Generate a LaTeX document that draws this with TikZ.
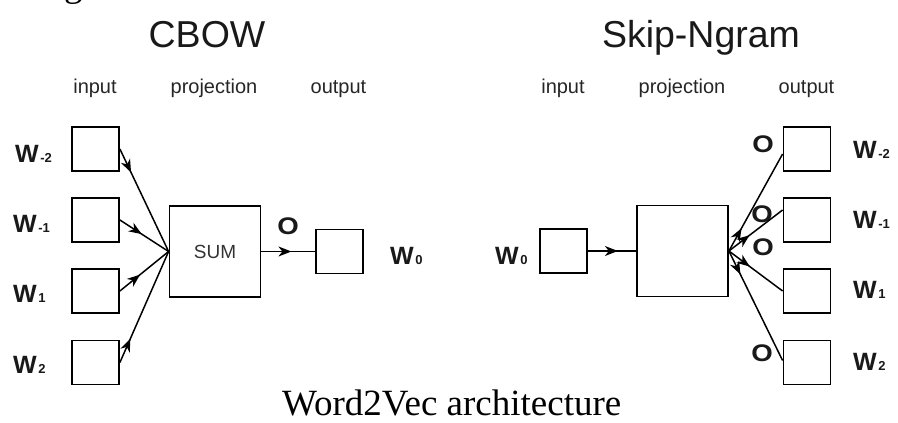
\documentclass[tikz,border=0pt]{standalone}
\usepackage{fontspec}
\setmainfont{Liberation Sans}
\newfontfamily\capserif{Liberation Serif}
\usetikzlibrary{arrows.meta,decorations.markings,calc}

\tikzset{
  box/.style={draw, line width=1.8pt, minimum width=47pt, minimum height=44pt, inner sep=0pt},
  bigbox/.style={draw, line width=1.8pt, minimum width=91pt, minimum height=91pt, inner sep=0pt, font=\fontsize{19}{21}\selectfont, text=black!80},
  conn/.style={line width=1.5pt, postaction={decorate},
    decoration={markings, mark=at position #1 with {\arrow{Stealth[length=13pt,width=10pt,inset=4pt]}}}},
  conn/.default=26pt,
  title/.style={font=\fontsize{37.5}{40}\selectfont, anchor=base, inner sep=0pt, text=black!90},
  col/.style={font=\fontsize{20}{22}\selectfont, anchor=base, inner sep=0pt, text=black!85},
  wl/.style={font=\bfseries\fontsize{25}{28}\selectfont, anchor=base west, inner sep=0pt, text=black!90},
  olab/.style={font=\bfseries\fontsize{24}{27}\selectfont, inner sep=0pt, text=black!90},
  captext/.style={font=\capserif\fontsize{37}{40}\selectfont, anchor=base west, inner sep=0pt},
}
\newcommand{\wsubl}[1]{W\hspace{1.5pt}{\fontsize{13}{13}\selectfont #1}}
\newcommand{\olet}{\scalebox{1.15}[1]{O}}

\begin{document}
\begin{tikzpicture}[x=1pt,y=-1pt]
\path[use as bounding box, fill=white] (0,0) rectangle (898,423);

% fragment of text above (cut off)
\node[captext] (gfrag) at (64,-4) {g};

% ---------------- CBOW ----------------
\node[title] (t1) at (207,47) {CBOW};
\node[col] (c1) at (95,93) {input};
\node[col] (c2) at (214,93) {projection};
\node[col] (c3) at (338.5,93) {output};

\node[box] (i1) at (95.5,149) {};
\node[box] (i2) at (95.5,220) {};
\node[box] (i3) at (95.5,291) {};
\node[box] (i4) at (95.5,362.5) {};
\node[bigbox] (sum) at (215,251.5) {SUM};
\node[box] (out) at (339.5,251.5) {};

\node[wl] (wl1) at (15,162) {\wsubl{-2}};
\node[wl] (wl2) at (13,232) {\wsubl{-1}};
\node[wl] (wl3) at (13,302) {\wsubl{1}};
\node[wl] (wl4) at (13,373) {\wsubl{2}};
\node[wl] (wl0) at (390,264) {\wsubl{0}};
\node[olab] (ol) at (288,226) {\olet};

\draw[conn] (i1.east) -- (sum.west);
\draw[conn] (i2.east) -- (sum.west);
\draw[conn] (i3.east) -- (sum.west);
\draw[conn] (i4.east) -- (sum.west);
\draw[conn=30pt] (sum.east) -- (out.west);

% ---------------- Skip-Ngram ----------------
\node[title] (t2) at (701,47) {Skip-Ngram};
\node[col] (d1) at (563,93) {input};
\node[col] (d2) at (682,93) {projection};
\node[col] (d3) at (806.5,93) {output};

\node[box] (in0) at (563.5,251) {};
\node[bigbox] (proj) at (682.5,251) {};
\node[box] (o1) at (807,149) {};
\node[box] (o2) at (807,220) {};
\node[box] (o3) at (807,291) {};
\node[box] (o4) at (807,362.5) {};

\node[wl] (wr0) at (495,264) {\wsubl{0}};
\node[wl] (wr1) at (853,158) {\wsubl{-2}};
\node[wl] (wr2) at (853,228) {\wsubl{-1}};
\node[wl] (wr3) at (853,298) {\wsubl{1}};
\node[wl] (wr4) at (853,370) {\wsubl{2}};

\node[olab] (or1) at (763,144) {\olet};
\node[olab] (or2) at (762,214) {\olet};
\node[olab] (or3) at (763,247) {\olet};
\node[olab] (or4) at (762,353) {\olet};

\draw[conn=30pt] (in0.east) -- (proj.west);
\draw[conn] (proj.east) -- ($(o1.west)+(0,5)$);
\draw[conn] (proj.east) -- ($(o2.west)+(0,-10)$);
\draw[conn] (proj.east) -- (o3.west);
\draw[conn] (proj.east) -- ($(o4.west)+(0,-2)$);

% ---------------- caption ----------------
\node[captext] (cap) at (282,415) {Word2Vec architecture};
\end{tikzpicture}
\end{document}
